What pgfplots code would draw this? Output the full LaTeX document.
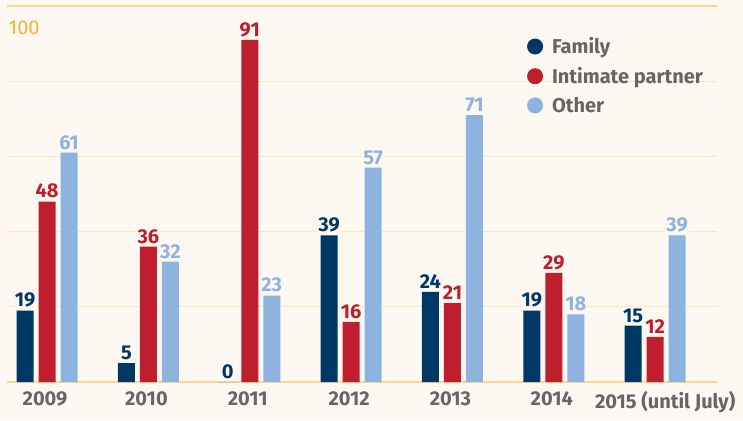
\documentclass[border=0pt]{standalone}
\usepackage{fontspec}
\setmainfont{Fira Sans}
\usepackage{pgfplots}
\pgfplotsset{compat=1.18}
\definecolor{bg}{HTML}{FDF8F2}
\definecolor{fam}{HTML}{003865}
\definecolor{ip}{HTML}{BE1E2D}
\definecolor{oth}{HTML}{8DB3DF}
\definecolor{gridc}{HTML}{FCE6BE}
\definecolor{gridd}{HTML}{FAD894}
\definecolor{orangelab}{HTML}{F5B335}
\definecolor{txt}{HTML}{666666}
\pgfplotsset{dotleg/.style={legend image code/.code={\fill[##1] (0cm,0cm) circle (8pt);}}}
\begin{document}
\begin{tikzpicture}
\fill[bg] (-7pt,-38pt) rectangle (736pt,382pt);
\begin{axis}[
 at={(0,0)}, anchor=south west,
 scale only axis, width=710pt, height=376pt,
 xmin=-0.395, xmax=6.61, ymin=0, ymax=100,
 ybar, bar width=17pt,
 /pgf/number format/assume math mode=true,
 axis line style={draw=none},
 major tick length=0pt,
 ytick={20,40,60,80}, yticklabels={},
 ymajorgrids, grid style={gridc, line width=1.2pt},
 extra y ticks={0,100}, extra y tick labels={},
 extra y tick style={grid style={gridd, line width=2.6pt}},
 xtick={0,...,6}, xticklabels={2009,2010,2011,2012,2013,2014,\hspace*{24pt}2015 (until July)},
 xticklabel style={font=\fontsize{20}{24}\selectfont\bfseries, text=txt, yshift=-6pt, xshift=-2pt},
 nodes near coords,
 every node near coord/.append style={font=\fontsize{20}{24}\selectfont\bfseries, fill=bg, inner sep=1pt, yshift=2pt},
 legend style={at={(0.728,0.927)}, anchor=north west, draw=none, fill=none,
   font=\fontsize{20}{24}\selectfont\bfseries, text=txt, row sep=8pt,
   nodes={inner xsep=9pt}},
 legend cell align=left,
 clip=false,
]
\addplot[fill=fam, draw=none, bar shift=-22pt, dotleg, every node near coord/.append style={text=fam}]
 coordinates {(0,19) (1,5) (2,0) (3,39) (4,24) (5,19) (6,15)};
\addlegendentry{Family}
\addplot[fill=ip, draw=none, bar shift=0pt, dotleg, every node near coord/.append style={text=ip}]
 coordinates {(0,48) (1,36) (2,91) (3,16) (4,21) (5,29) (6,12)};
\addlegendentry{Intimate partner}
\addplot[fill=oth, draw=none, bar shift=22pt, dotleg, every node near coord/.append style={text=oth}]
 coordinates {(0,61) (1,32) (2,23) (3,57) (4,71) (5,18) (6,39)};
\addlegendentry{Other}
\node[anchor=north west, text=orangelab, font=\fontsize{20}{24}\selectfont, inner sep=0pt] at (rel axis cs:0.002,0.96) {100};
\end{axis}
\pgfresetboundingbox
\useasboundingbox (-7pt,-38pt) rectangle (736pt,382pt);
\end{tikzpicture}
\end{document}
